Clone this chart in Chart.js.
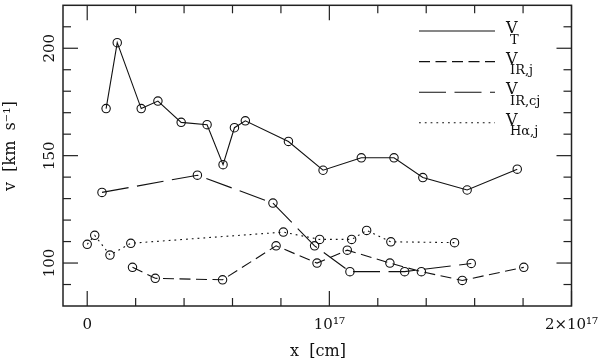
<!DOCTYPE html>
<html>
<head>
<meta charset="utf-8">
<script src="https://cdn.jsdelivr.net/npm/chart.js@4/dist/chart.umd.min.js"></script>
<style>
  body { margin: 0; background: #fff; }
  canvas { display: block; }
</style>
</head>
<body>
<canvas id="chartVel" width="600" height="359"></canvas>
<script>
// x en unidades de 10^17 cm, v en km/s
const vtX = [0.078, 0.124, 0.223, 0.292, 0.388, 0.495, 0.561, 0.608, 0.653, 0.831, 0.974, 1.132, 1.267, 1.386, 1.569, 1.776];
const vtY = [171.9, 202.6, 171.9, 175.4, 165.5, 164.4, 145.8, 163.0, 166.2, 156.6, 143.2, 149.0, 149.0, 139.8, 134.0, 143.7];

const irjX = [0.187, 0.281, 0.559, 0.780, 0.949, 1.074, 1.250, 1.380, 1.549, 1.803];
const irjY = [98.0, 92.9, 92.2, 108.0, 100.0, 106.0, 100.0, 96.0, 91.9, 98.0];

const ircjX = [0.061, 0.455, 0.767, 0.939, 1.085, 1.311, 1.586];
const ircjY = [132.9, 140.9, 127.9, 108.0, 96.0, 96.0, 99.8];

const haX = [0.0, 0.031, 0.094, 0.180, 0.810, 0.960, 1.092, 1.154, 1.254, 1.517];
const haY = [108.7, 112.9, 103.7, 109.2, 114.4, 111.0, 111.0, 115.2, 109.9, 109.5];

// Etiquetas de los ejes
const xTickValues = [0, 1, 2];
const xTickLabels = ['0', '10¹⁷', '2×10¹⁷'];
const xMinorStep = 0.2;
const yTickValues = [100, 150, 200];
const yMinorStep = 10;

// Leyenda: [texto base, subíndice]
const legendNames = [['V', 'T'], ['V', 'IR,j'], ['V', 'IR,cj'], ['V', 'Hα,j']];
const legendDashes = [[], [11, 5.5], [27, 8.5], [1.8, 4]];

const FUENTE = '"DejaVu Serif", "Liberation Serif", serif';

function puntos(xs, ys) {
  return xs.map((x, i) => ({ x: x, y: ys[i] }));
}

function serie(label, xs, ys, dash) {
  return {
    label: label,
    data: puntos(xs, ys),
    showLine: true,
    borderColor: '#111',
    borderWidth: 1.1,
    borderDash: dash,
    pointRadius: 4.2,
    pointBorderWidth: 1.1,
    pointBorderColor: '#111',
    pointBackgroundColor: 'rgba(0,0,0,0)',
    fill: false,
    tension: 0
  };
}

function linea(ctx, x1, y1, x2, y2) {
  ctx.beginPath();
  ctx.moveTo(x1, y1);
  ctx.lineTo(x2, y2);
  ctx.stroke();
}

// Marco, ticks hacia dentro, etiquetas y leyenda
const marcoEjes = {
  id: 'marcoEjes',
  afterDraw(chart) {
    const { ctx, chartArea: a } = chart;
    const sx = chart.scales.x, sy = chart.scales.y;
    ctx.save();
    ctx.strokeStyle = '#222';
    ctx.lineWidth = 1.5;
    ctx.strokeRect(a.left, a.top, a.right - a.left, a.bottom - a.top);

    ctx.lineWidth = 1.2;
    for (let v = 0; v <= sx.max + 1e-9; v += xMinorStep) {
      const px = sx.getPixelForValue(v);
      const mayor = xTickValues.some(t => Math.abs(t - v) < 1e-6);
      const len = mayor ? 15 : 8;
      linea(ctx, px, a.bottom, px, a.bottom - len);
      linea(ctx, px, a.top, px, a.top + len);
    }
    for (let v = Math.ceil(sy.min / yMinorStep) * yMinorStep; v <= sy.max; v += yMinorStep) {
      if (v <= sy.min || v >= sy.max) continue;
      const py = sy.getPixelForValue(v);
      const len = yTickValues.includes(v) ? 15 : 8;
      linea(ctx, a.left, py, a.left + len, py);
      linea(ctx, a.right, py, a.right - len, py);
    }

    ctx.fillStyle = '#111';
    ctx.font = '15px ' + FUENTE;
    ctx.textAlign = 'center';
    ctx.textBaseline = 'alphabetic';
    xTickValues.forEach((v, i) => {
      ctx.fillText(xTickLabels[i], sx.getPixelForValue(v), 329);
    });
    yTickValues.forEach(v => {
      ctx.save();
      ctx.translate(53.5, sy.getPixelForValue(v));
      ctx.rotate(-Math.PI / 2);
      ctx.fillText(String(v), 0, 0);
      ctx.restore();
    });

    // títulos de ejes
    ctx.font = '16px ' + FUENTE;
    ctx.fillText('x  [cm]', 318, 356);
    ctx.save();
    ctx.translate(15, 146);
    ctx.rotate(-Math.PI / 2);
    ctx.fillText('v  [km  s⁻¹]', 0, 0);
    ctx.restore();

    // leyenda
    ctx.textAlign = 'left';
    legendNames.forEach((n, i) => {
      const ly = 31 + i * 30.6;
      ctx.setLineDash(legendDashes[i]);
      ctx.lineWidth = 1.1;
      ctx.strokeStyle = '#111';
      linea(ctx, 419, ly, 495, ly);
      ctx.setLineDash([]);
      ctx.font = '16px ' + FUENTE;
      ctx.fillText(n[0], 506, ly + 2);
      ctx.font = '13px ' + FUENTE;
      ctx.fillText(n[1], 510, ly + 12.5);
    });
    ctx.restore();
  }
};

const ctxVel = document.getElementById('chartVel').getContext('2d');

const chartVel = new Chart(ctxVel, {
  type: 'scatter',
  data: {
    datasets: [
      serie('V_T', vtX, vtY, []),
      serie('V_IR,j', irjX, irjY, [11, 5.5]),
      serie('V_IR,cj', ircjX, ircjY, [27, 8.5]),
      serie('V_Ha,j', haX, haY, [1.8, 4])
    ]
  },
  options: {
    responsive: false,
    animation: false,
    devicePixelRatio: 1,
    layout: { padding: { left: 63, right: 28.5, top: 2, bottom: 53 } },
    scales: {
      x: { type: 'linear', min: -0.1, max: 2.0, display: false },
      y: { type: 'linear', min: 80, max: 220, display: false }
    },
    plugins: {
      legend: { display: false },
      tooltip: { enabled: false }
    }
  },
  plugins: [marcoEjes]
});
</script>
</body>
</html>
